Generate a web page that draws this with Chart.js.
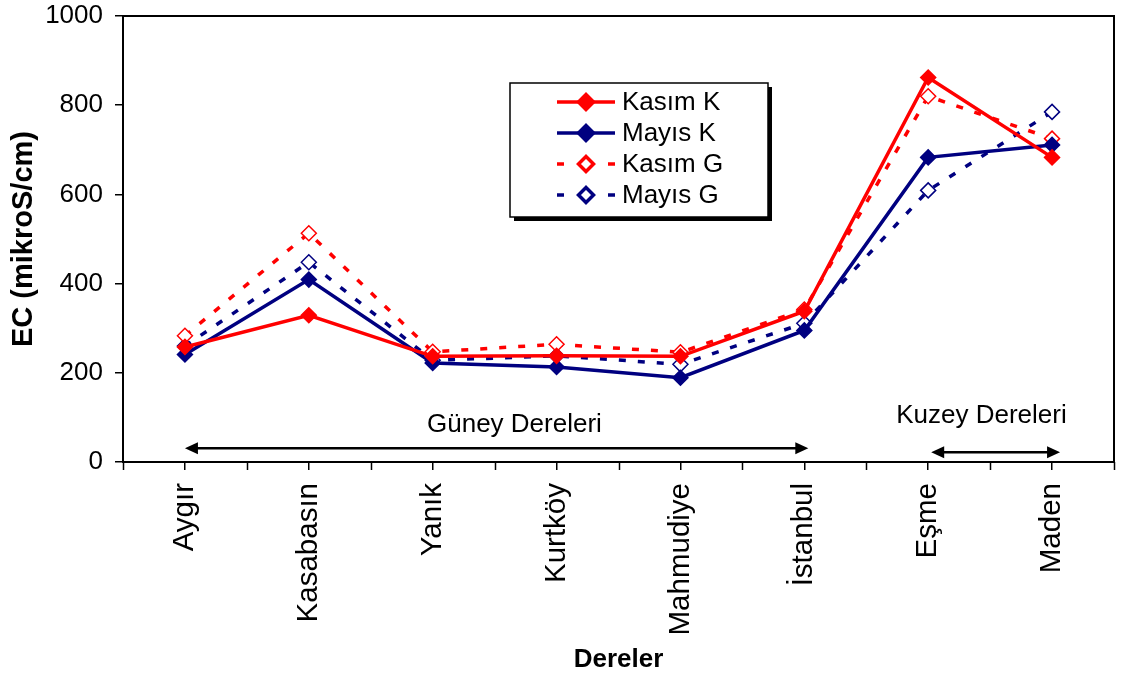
<!DOCTYPE html>
<html>
<head>
<meta charset="utf-8">
<script src="https://cdn.jsdelivr.net/npm/chart.js@4.4.0/dist/chart.umd.min.js"></script>
<style>
  html, body { margin: 0; padding: 0; background: #fff; }
  canvas { display: block; }
</style>
</head>
<body>
<canvas id="ecChart" width="1123" height="678"></canvas>
<script>
// Streams (x categories)
const dereler = ['Aygır', 'Kasabasın', 'Yanık', 'Kurtköy', 'Mahmudiye', 'İstanbul', 'Eşme', 'Maden'];

// EC values (mikroS/cm) per season and sampling point
const kasimK = [258, 329, 237, 238, 237, 338, 862, 683];
const mayisK = [241, 409, 222, 213, 189, 295, 683, 711];
const kasimG = [283, 513, 247, 264, 246, 342, 820, 725];
const mayisG = [260, 448, 228, 238, 219, 311, 609, 785];

// Y axis range and step
const yMin = 0, yMax = 1000, yStep = 200;

// Stream groups shown under the lines (first and last category index)
const grupAdlari = ['Güney Dereleri', 'Kuzey Dereleri'];
const grupBaslangic = [0, 6];
const grupBitis = [5, 7];

const FONT = '"Liberation Sans", Arial, Helvetica, sans-serif';
Chart.defaults.font.family = FONT;
Chart.defaults.font.size = 26;
Chart.defaults.color = '#000';

const RED = '#FF0000';
const NAVY = '#000080';

// Frame around the plot area
const frame = {
  id: 'frame',
  afterDraw(chart) {
    const { ctx, chartArea: a } = chart;
    ctx.save();
    ctx.strokeStyle = '#000';
    ctx.lineWidth = 2;
    ctx.strokeRect(a.left, a.top, a.right - a.left, a.bottom - a.top);
    ctx.restore();
  }
};

// Extra x tick marks on the category boundaries
const boundaryTicks = {
  id: 'boundaryTicks',
  afterDraw(chart) {
    const { ctx } = chart;
    const x = chart.scales.x;
    const step = x.getPixelForValue(1) - x.getPixelForValue(0);
    ctx.save();
    ctx.strokeStyle = '#000';
    ctx.lineWidth = 1.5;
    for (let i = 0; i <= dereler.length; i++) {
      const px = Math.round(x.getPixelForValue(0) - step / 2 + i * step) + 0.5;
      ctx.beginPath();
      ctx.moveTo(px, x.top);
      ctx.lineTo(px, x.top + 8);
      ctx.stroke();
    }
    ctx.restore();
  }
};

function arrowHead(ctx, tipX, y, dir) {
  ctx.beginPath();
  ctx.moveTo(tipX, y);
  ctx.lineTo(tipX - dir * 13, y - 6);
  ctx.lineTo(tipX - dir * 13, y + 6);
  ctx.closePath();
  ctx.fill();
}

// Group arrows with their names
const groups = {
  id: 'groups',
  afterDatasetsDraw(chart) {
    const { ctx } = chart;
    const x = chart.scales.x, y = chart.scales.y;
    const step = x.getPixelForValue(1) - x.getPixelForValue(0);
    const arrowVals = [31, 22];
    const tipOffsets = [[0, 4], [3, 8]];
    const textCenters = [2.66, 6.43];
    const textVals = [67, 87];
    ctx.save();
    ctx.strokeStyle = '#000';
    ctx.fillStyle = '#000';
    ctx.lineWidth = 2.5;
    grupAdlari.forEach((name, i) => {
      const ay = y.getPixelForValue(arrowVals[i]);
      const x1 = x.getPixelForValue(grupBaslangic[i]) + tipOffsets[i][0];
      const x2 = x.getPixelForValue(grupBitis[i]) + tipOffsets[i][1];
      ctx.beginPath();
      ctx.moveTo(x1 + 8, ay);
      ctx.lineTo(x2 - 8, ay);
      ctx.stroke();
      arrowHead(ctx, x1, ay, -1);
      arrowHead(ctx, x2, ay, 1);
      ctx.font = '26px ' + FONT;
      ctx.textAlign = 'center';
      ctx.textBaseline = 'alphabetic';
      const tx = x.getPixelForValue(0) + textCenters[i] * step;
      ctx.fillText(name, tx, y.getPixelForValue(textVals[i]));
    });
    ctx.restore();
  }
};

// Boxed legend with drop shadow inside the plot
const legendBox = {
  id: 'legendBox',
  afterDraw(chart) {
    const { ctx } = chart;
    const bx = 510, by = 83, bw = 258, bh = 134;
    ctx.save();
    ctx.fillStyle = '#000';
    ctx.fillRect(bx + 4, by + 4, bw, bh);
    ctx.fillStyle = '#fff';
    ctx.fillRect(bx, by, bw, bh);
    ctx.strokeStyle = '#000';
    ctx.lineWidth = 1.5;
    ctx.strokeRect(bx, by, bw, bh);
    chart.data.datasets.forEach((ds, i) => {
      const cy = by + 19 + i * 31;
      const lx1 = bx + 47, lx2 = bx + 105, cx = (lx1 + lx2) / 2;
      ctx.strokeStyle = ds.borderColor;
      ctx.lineWidth = ds.borderWidth;
      ctx.beginPath();
      if (ds.borderDash) {
        ctx.moveTo(lx1, cy); ctx.lineTo(lx1 + 7, cy);
        ctx.moveTo(lx2 - 7, cy); ctx.lineTo(lx2, cy);
      } else {
        ctx.moveTo(lx1, cy); ctx.lineTo(lx2, cy);
      }
      ctx.stroke();
      ctx.fillStyle = ds.pointBackgroundColor;
      ctx.strokeStyle = ds.pointBorderColor;
      Chart.helpers.drawPoint(ctx, {
        pointStyle: 'rectRot', rotation: 0,
        radius: ds.pointRadius, borderWidth: ds.pointBorderWidth
      }, cx, cy);
      ctx.fillStyle = '#000';
      ctx.font = '26px ' + FONT;
      ctx.textAlign = 'left';
      ctx.textBaseline = 'middle';
      ctx.fillText(ds.label, bx + 112, cy + 1);
    });
    ctx.restore();
  }
};

function series(label, data, color, dashed) {
  return {
    label,
    data,
    borderColor: color,
    borderWidth: 3.5,
    borderDash: dashed ? [7, 12] : undefined,
    pointStyle: 'rectRot',
    pointRadius: dashed ? 7.5 : 7.5,
    pointBorderWidth: 1.5,
    pointBackgroundColor: dashed ? '#fff' : color,
    pointBorderColor: color,
    tension: 0,
    fill: false
  };
}

new Chart(document.getElementById('ecChart'), {
  type: 'line',
  data: {
    labels: dereler,
    datasets: [
      series('Kasım K', kasimK, RED, false),
      series('Mayıs K', mayisK, NAVY, false),
      series('Kasım G', kasimG, RED, true),
      series('Mayıs G', mayisG, NAVY, true)
    ]
  },
  options: {
    responsive: false,
    animation: false,
    devicePixelRatio: 1,
    layout: { padding: { top: 16, right: 8, left: 0, bottom: 0 } },
    plugins: {
      legend: { display: false },
      tooltip: { enabled: false }
    },
    scales: {
      x: {
        type: 'category',
        offset: true,
        grid: { drawOnChartArea: false, drawTicks: true, tickLength: 8, color: '#000', lineWidth: 1.5, offset: false },
        border: { display: true, color: '#000', width: 2 },
        ticks: { minRotation: 90, maxRotation: 90, padding: 13, font: { size: 29.5 }, autoSkip: false },
        title: { display: true, text: 'Dereler', font: { size: 26, weight: 'bold' }, padding: { top: 0, bottom: 3 } },
        afterFit(scale) { scale.height = 216; scale.paddingLeft = 0; scale.paddingRight = 0; }
      },
      y: {
        min: yMin,
        max: yMax,
        grid: { drawOnChartArea: false, drawTicks: true, tickLength: 8, color: '#000', lineWidth: 1.5 },
        border: { display: true, color: '#000', width: 2 },
        ticks: { stepSize: yStep, padding: 12, font: { size: 26 }, callback: (v) => String(v) },
        title: { display: true, text: 'EC (mikroS/cm)', font: { size: 29, weight: 'bold' }, padding: { top: 7, bottom: 0 } },
        afterFit(scale) { scale.width = 123; scale.paddingTop = 0; scale.paddingBottom = 0; }
      }
    }
  },
  plugins: [frame, boundaryTicks, groups, legendBox]
});
</script>
</body>
</html>
